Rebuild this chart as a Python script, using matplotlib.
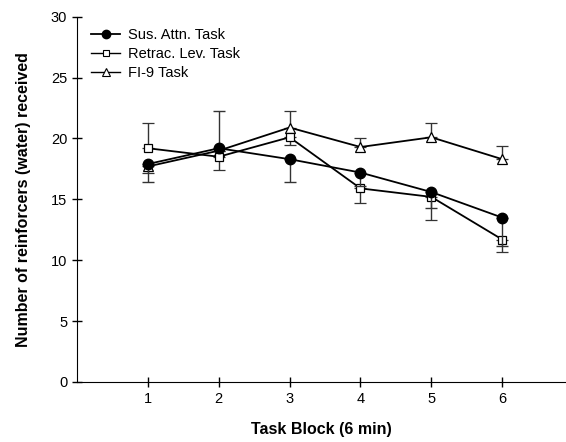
import numpy as np
import matplotlib.pyplot as plt
from matplotlib.lines import Line2D

plt.rcParams['font.family'] = ['Liberation Sans', 'DejaVu Sans']

blocks = [1, 2, 3, 4, 5, 6]

sus_attn = [17.9, 19.2, 18.3, 17.2, 15.6, 13.5]
sus_lo = [1.5, 0, 1.9, 1.1, 1.3, 2.3]
sus_hi = [0, 3.1, 0, 0, 0, 0]

retrac = [19.2, 18.5, 20.1, 15.9, 15.2, 11.7]
retrac_lo = [0, 1.1, 0.6, 1.2, 1.9, 1.0]
retrac_hi = [2.1, 0, 0, 0, 0, 0]

fi9 = [17.7, 19.0, 20.9, 19.3, 20.1, 18.3]
fi9_lo = [0.5, 0, 0, 0, 0, 0]
fi9_hi = [0, 0, 1.4, 0.7, 1.2, 1.1]

fig = plt.figure(figsize=(5.66, 4.42), dpi=100)
ax = fig.add_axes([0.136, 0.136, 0.864, 0.826])

err_kw = dict(ecolor='#333333', elinewidth=1.0, capsize=4, capthick=1.0)

ax.errorbar(blocks, fi9, yerr=[fi9_lo, fi9_hi], color='black', lw=1.3,
            marker='^', ms=7, mfc='white', mec='black', mew=0.9,
            zorder=2, **err_kw)
ax.errorbar(blocks, retrac, yerr=[retrac_lo, retrac_hi], color='black', lw=1.3,
            marker='s', ms=6, mfc='white', mec='black', mew=0.9,
            zorder=3, **err_kw)
ax.errorbar(blocks, sus_attn, yerr=[sus_lo, sus_hi], color='black', lw=1.3,
            marker='o', ms=7.5, mfc='black', mec='black',
            zorder=4, **err_kw)

ax.set_xlim(0, 6.9)
ax.set_ylim(0, 30)
ax.set_xticks(blocks)
ax.set_yticks([0, 5, 10, 15, 20, 25, 30])
ax.tick_params(direction='inout', length=7, width=1, labelsize=10.5)
ax.spines['top'].set_visible(False)
ax.spines['right'].set_visible(False)

ax.set_xlabel('Task Block (6 min)', fontsize=11.5, fontweight='bold', labelpad=12)
ax.set_ylabel('Number of reinforcers (water) received', fontsize=11.5,
              fontweight='bold', labelpad=14)

# legend without error bars, smaller markers like the original
handles = [
    Line2D([], [], color='black', lw=1.3, marker='o', ms=6, mfc='black'),
    Line2D([], [], color='black', lw=1.0, marker='s', ms=5, mfc='white', mew=0.8),
    Line2D([], [], color='black', lw=1.0, marker='^', ms=5.5, mfc='white', mew=0.8),
]
labels = ['Sus. Attn. Task', 'Retrac. Lev. Task', 'FI-9 Task']
ax.legend(handles, labels, loc='upper left', bbox_to_anchor=(0.005, 1.0),
          frameon=False, fontsize=10.5, handlelength=2.0, handletextpad=0.5,
          labelspacing=0.32, borderpad=0.3)

fig.savefig('out.png', dpi=100)
